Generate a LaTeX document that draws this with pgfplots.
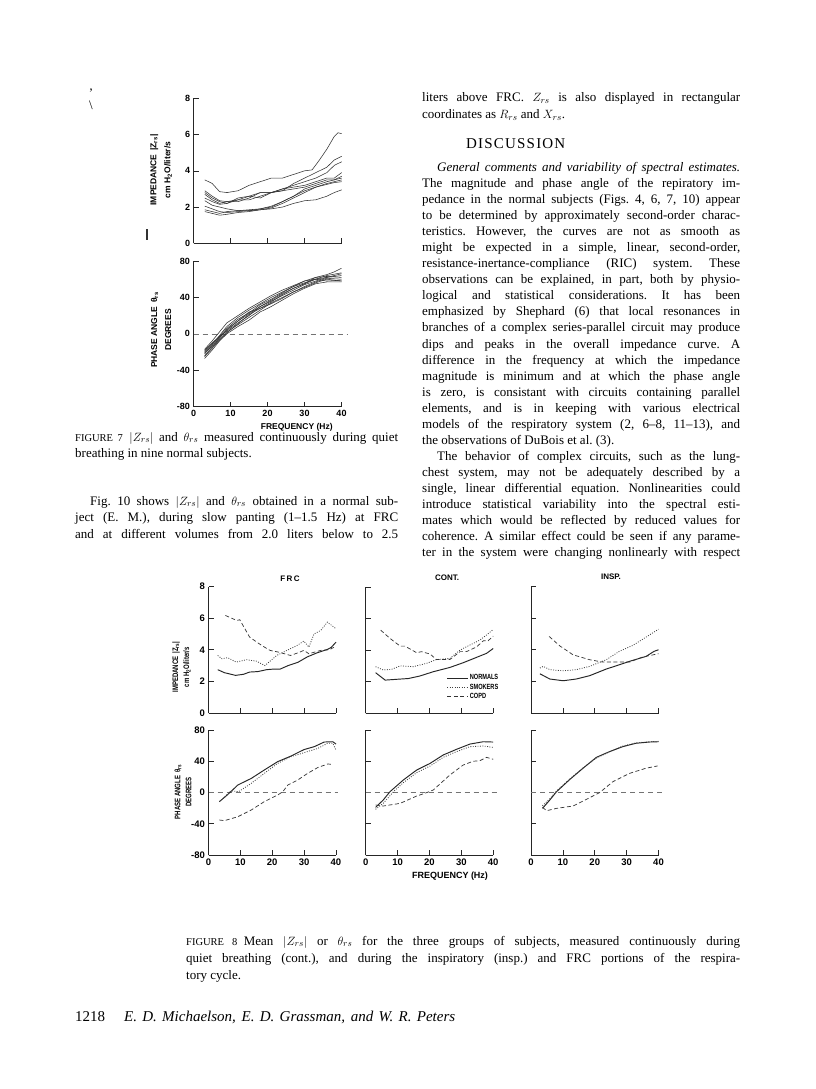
\documentclass[border=0pt]{standalone}
\usepackage{pgfplots}
\pgfplotsset{compat=1.18}
\usepackage{fontspec}
\setmainfont{Liberation Serif}
\newfontfamily\fN{Liberation Sans}
\newfontfamily\fK{Liberation Sans}[FakeStretch=0.75]
\newcommand\sfN[1]{\fN\bfseries\fontsize{#1}{#1}\selectfont}
\newcommand\sfK[1]{\fK\bfseries\fontsize{#1}{#1}\selectfont}
\newcommand\bodyfont{\fontsize{13}{15}\selectfont\frenchspacing}
\newcommand\capfont{\fontsize{13}{14}\selectfont\frenchspacing}
% justified line: x, baseline y, width, text
\newcommand\JL[4]{\node[anchor=base west,inner sep=0pt,font=\bodyfont] at (#1pt,-#2pt) {\makebox[#3pt][s]{#4}};}
\newcommand\LL[3]{\node[anchor=base west,inner sep=0pt,font=\bodyfont] at (#1pt,-#2pt) {#3};}
\newcommand\JC[4]{\node[anchor=base west,inner sep=0pt,font=\capfont] at (#1pt,-#2pt) {\makebox[#3pt][s]{#4}};}
\newcommand\LC[3]{\node[anchor=base west,inner sep=0pt,font=\capfont] at (#1pt,-#2pt) {#3};}
\newcommand\Zrs{$|Z_{rs}|$}
\newcommand\Trs{$\theta_{rs}$}

\pgfplotsset{
  pg/.style={scale only axis, axis lines*=left,
    axis line style={-, line width=0.7pt, black!85},
    enlargelimits=false, xmin=0, xmax=40, tick align=inside,
    major tick length=5pt, tick style={line width=0.6pt, black!85},
    clip=false, xtick pos=left, ytick pos=left, anchor=south west},
  f7/.style={pg, width=148pt, height=145pt, ticklabel style={font=\sfN{9}}},
  f8/.style={pg, width=127.5pt, ticklabel style={font=\sfN{9.5}}},
  imp/.style={ymin=0, ymax=8, ytick={0,2,4,6,8}, xtick={10,20,30,40}, xticklabels={,,,}},
  pha/.style={ymin=-80, ymax=80, ytick={-80,-40,0,40,80}, xtick={0,10,20,30,40}, xticklabels={0,10,20,30,40}},
  subj/.style={line width=0.55pt, black!80},
  nor/.style={line width=0.95pt, black!85},
  smk/.style={line width=0.8pt, black!75, dash pattern=on 0.9pt off 1.5pt},
  cpd/.style={line width=0.7pt, black!80, dash pattern=on 4pt off 2.5pt},
  zer/.style={line width=0.6pt, black!55, dash pattern=on 5pt off 4pt, forget plot},
}

\begin{document}
\begin{tikzpicture}
\fill[white] (0,0) rectangle (816pt,-1089pt);
\path[use as bounding box] (0,0) rectangle (816pt,-1089pt);

% ---------------- Figure 7 -----------------
\begin{axis}[f7, imp, at={(193.7pt,-243.3pt)}, yticklabels={0,2,4,6,8}]
\addplot[subj] coordinates {(3,3.5)(5,3.3)(7,2.85)(9,2.8)(12,2.9)(15,3.2)(18,3.4)(21,3.6)(24,3.6)(27,3.8)(30,4.0)(32,4.05)(34,4.6)(36,5.2)(38,5.9)(39,6.1)(40,6.05)};
\addplot[subj] coordinates {(3,2.9)(5,2.6)(7,2.35)(9,2.3)(12,2.3)(15,2.5)(18,2.8)(21,2.8)(24,2.9)(27,3.3)(30,3.6)(33,3.9)(36,4.2)(38,4.6)(40,4.8)};
\addplot[subj] coordinates {(3,2.8)(5,2.5)(7,2.3)(9,2.2)(12,2.5)(15,2.6)(18,2.5)(21,2.8)(24,3.0)(27,3.2)(30,3.4)(33,3.6)(36,3.9)(38,4.3)(40,4.5)};
\addplot[subj] coordinates {(3,2.7)(5,2.4)(7,2.2)(9,2.3)(12,2.4)(15,2.4)(18,2.6)(21,2.8)(24,3.0)(27,3.1)(30,3.2)(33,3.4)(36,3.6)(38,3.6)(40,3.9)};
\addplot[subj] coordinates {(3,2.5)(5,2.3)(7,2.15)(9,2.2)(12,2.4)(15,2.6)(18,2.8)(21,2.8)(24,2.9)(27,3.0)(30,3.1)(33,3.3)(36,3.5)(38,3.5)(40,3.7)};
\addplot[subj] coordinates {(3,2.35)(5,2.1)(7,2.0)(9,1.9)(12,1.8)(15,1.8)(18,1.9)(21,2.0)(24,2.3)(27,2.6)(30,3.0)(33,3.2)(36,3.4)(38,3.5)(40,3.6)};
\addplot[subj] coordinates {(3,2.05)(5,1.9)(7,1.75)(9,1.7)(12,1.75)(15,1.8)(18,1.85)(21,1.95)(24,2.2)(27,2.5)(30,2.8)(33,3.1)(36,3.3)(38,3.4)(40,3.5)};
\addplot[subj] coordinates {(3,1.85)(5,1.75)(7,1.65)(9,1.75)(12,1.8)(15,1.85)(18,1.9)(21,2.05)(24,2.3)(27,2.6)(30,2.9)(33,3.1)(36,3.25)(38,3.35)(40,3.4)};
\addplot[subj] coordinates {(3,1.75)(5,1.65)(7,1.55)(9,1.6)(12,1.7)(15,1.75)(18,1.85)(21,1.9)(24,2.0)(27,2.2)(30,2.35)(33,2.4)(36,2.6)(38,2.8)(40,2.95)};
\end{axis}

\begin{axis}[f7, pha, at={(193.5pt,-406.7pt)}, height=145.7pt, yticklabels={-80,-40,0,40,80}]
\addplot[zer] coordinates {(0,0)(41.5,0)};
\addplot[subj] coordinates {(3,-17)(5,-8)(7,2)(9,12)(12,20)(15,28)(18,35)(21,42)(24,48)(27,53)(30,58)(33,62)(36,65)(38,68)(40,72)};
\addplot[subj] coordinates {(3,-20)(5,-12)(7,-2)(9,8)(12,18)(15,26)(18,33)(21,40)(24,46)(27,52)(30,56)(33,60)(36,64)(40,67)};
\addplot[subj] coordinates {(3,-22)(5,-13)(7,-4)(9,4)(12,14)(15,22)(18,30)(21,37)(24,44)(27,50)(30,55)(33,60)(36,62)(40,66)};
\addplot[subj] coordinates {(3,-18)(5,-10)(7,-3)(9,3)(12,12)(15,20)(18,30)(21,36)(24,42)(27,48)(30,54)(33,58)(36,62)(40,64)};
\addplot[subj] coordinates {(3,-24)(5,-15)(7,-6)(9,2)(12,10)(15,18)(18,26)(21,34)(24,40)(27,46)(30,52)(33,57)(36,61)(40,60)};
\addplot[subj] coordinates {(3,-25)(5,-16)(7,-7)(9,1)(12,11)(15,21)(18,28)(21,33)(24,39)(27,46)(30,51)(33,56)(36,60)(40,58)};
\addplot[subj] coordinates {(3,-27)(5,-18)(7,-8)(9,0)(12,8)(15,15)(18,24)(21,30)(24,37)(27,44)(30,50)(33,55)(36,57)(40,57)};
\addplot[subj] coordinates {(3,-21)(5,-14)(7,-5)(9,5)(12,14)(15,24)(18,28)(21,35)(24,43)(27,50)(30,55)(33,62)(36,63)(40,62)};
\addplot[subj] coordinates {(3,-19)(5,-11)(7,-3)(9,6)(12,16)(15,23)(18,32)(21,38)(24,45)(27,52)(30,58)(33,60)(36,58)(40,59)};
\end{axis}

\node[font=\sfN{8.5}] at (296.7pt,-427pt) {FREQUENCY (Hz)};
\node[rotate=90, align=center, font=\sfN{8.5}, inner sep=0pt] at (161pt,-170pt)
  {IMPEDANCE \,|Z\textsubscript{rs}|\\[5.5pt] cm H\textsubscript{2}O/liter/s};
\node[rotate=90, align=center, font=\sfN{8.5}, inner sep=0pt] at (161pt,-330pt)
  {PHASE ANGLE \,θ\textsubscript{rs}\\[5.5pt] DEGREES};
\draw[line width=1.6pt, black!80] (147pt,-229pt) -- (147pt,-240pt);
\node[font=\bodyfont, inner sep=0pt] at (91pt,-93pt) {\textquoteright};
\node[font=\bodyfont, inner sep=0pt] at (91pt,-105pt) {\textbackslash};

% ---------------- Figure 8 -----------------
% FRC
\begin{axis}[f8, imp, at={(208.5pt,-713pt)}, height=126.5pt, yticklabels={0,2,4,6,8}]
\addplot[nor] coordinates {(2.9,2.74)(5,2.55)(8.5,2.38)(11,2.45)(12.9,2.59)(15.5,2.62)(18.2,2.74)(20.5,2.78)(22.5,2.78)(25,3.0)(28,3.2)(31,3.55)(34,3.8)(37.3,4.02)(38.5,4.15)(40,4.48)};
\addplot[smk] coordinates {(2.9,3.64)(4.2,3.43)(6,3.5)(8.7,3.22)(11.9,3.37)(15,3.28)(17.7,3.0)(21.4,3.64)(24.6,3.96)(27.8,4.27)(29.9,4.55)(31.5,4.17)(33.1,5.0)(35.2,5.22)(37.3,5.75)(40,5.33)};
\addplot[cpd] coordinates {(5.3,6.17)(8.9,5.85)(9.8,5.9)(12.9,4.8)(16.7,4.27)(19.3,3.96)(22,3.85)(25.7,3.64)(28,3.8)(29.9,3.96)(31.5,3.75)(35.2,3.96)(37.9,4.0)(39.5,4.17)};
\end{axis}
\begin{axis}[f8, pha, at={(208.5pt,-855pt)}, height=125pt, yticklabels={-80,-40,0,40,80}]
\addplot[zer] coordinates {(0,0)(40.5,0)};
\addplot[nor] coordinates {(3.4,-11.7)(5.5,-4.5)(7.5,3)(9.2,9.6)(13.4,18)(17.5,28.8)(21.7,39.5)(25.9,46.7)(30,55)(33.2,58.7)(36.3,64.6)(39,65)(40,62)};
\addplot[smk] coordinates {(4,-9.6)(7.1,2.3)(9.4,1)(13.4,11.7)(17.5,24.5)(21.7,37.3)(25.9,45.9)(30,51)(34.3,56.5)(37.4,63)(39,63)(40,54.4)};
\addplot[cpd] coordinates {(3.4,-35.2)(5,-36)(9.2,-31)(13.4,-22.4)(17.5,-11.7)(21.7,-3.2)(23.3,1)(24.9,9.6)(28,16)(31.1,24.5)(34.3,32)(37.4,36.5)(39,36)};
\end{axis}

% CONT
\begin{axis}[f8, imp, at={(365.7pt,-713.3pt)}, height=126.5pt, yticklabels={,,,,},
  legend style={at={(0.635,0.315)}, anchor=north west, draw=none, fill=none,
    inner sep=0pt, row sep=0.6pt, font=\sfK{7.5}, cells={anchor=west},
    nodes={inner sep=1pt}},
  legend image code/.code={\draw[#1] (0pt,0pt) -- (21pt,0pt);}]
\addplot[nor] coordinates {(3.1,2.57)(6.1,2.1)(9.7,2.15)(13.4,2.2)(17,2.36)(21.2,2.63)(26.4,2.9)(30.6,3.2)(34.8,3.54)(37.9,3.79)(40,4.1)};
\addlegendentry{NORMALS}
\addplot[smk] coordinates {(3.1,2.95)(5.5,2.74)(8.1,2.78)(10.8,3.0)(14.9,2.95)(19.1,3.16)(22.2,3.4)(26.4,3.47)(29.6,4.0)(32.7,4.32)(35.8,4.63)(37.9,4.95)(40,5.3)};
\addlegendentry{SMOKERS}
\addplot[cpd] coordinates {(4.7,5.26)(7.6,4.74)(10.8,4.25)(12.3,4.25)(16,3.83)(17.5,3.9)(20.2,3.75)(22.2,3.4)(26.4,3.4)(29.6,3.9)(31.6,3.9)(34.8,4.2)(36.9,4.59)(38.4,4.59)(40,4.88)};
\addlegendentry{COPD}
\end{axis}
\begin{axis}[f8, pha, at={(365.7pt,-855pt)}, height=125pt, yticklabels={,,,,}]
\addplot[zer] coordinates {(0,0)(41.3,0)};
\addplot[nor] coordinates {(3.1,-19)(5.5,-9.6)(7.6,1)(11.8,16)(16,28.8)(20.2,37.3)(24.3,48)(28.5,55.3)(32.7,62)(36.9,65)(40,64.6)};
\addplot[smk] coordinates {(3.1,-21.5)(5.5,-13.9)(8.7,1)(11.8,12.6)(16,25.4)(20.2,33.9)(24.3,45)(28.5,52.3)(32.7,58.7)(36.9,59.5)(40,57.8)};
\addplot[cpd] coordinates {(3.1,-16)(5.5,-17.3)(10.8,-13.9)(16,-4.5)(19.1,-0.2)(21.2,3.2)(26.4,22.4)(30.6,35.2)(33.7,40)(35.8,40.7)(37.9,45)(40,42.5)};
\end{axis}

% INSP
\begin{axis}[f8, imp, at={(531pt,-713pt)}, height=126.5pt, yticklabels={,,,,}]
\addplot[nor] coordinates {(2.8,2.48)(5.9,2.15)(10.1,2.04)(14.2,2.15)(18.4,2.36)(23.6,2.78)(27.7,3.05)(31.9,3.33)(36.1,3.58)(38.6,3.9)(40,4.0)};
\addplot[smk] coordinates {(2.8,2.84)(3.8,2.95)(5.9,2.74)(10.1,2.67)(14.2,2.74)(18.4,2.95)(23.6,3.37)(27.7,3.9)(31.9,4.27)(36.1,4.8)(40,5.3)};
\addplot[cpd] coordinates {(5.7,4.84)(9,4.25)(13.2,3.68)(18.4,3.37)(22.5,3.22)(26.7,3.22)(30.9,3.22)(35,3.54)(40,3.75)};
\end{axis}
\begin{axis}[f8, pha, at={(531pt,-855pt)}, height=125pt, yticklabels={,,,,}]
\addplot[zer] coordinates {(0,0)(41.5,0)};
\addplot[nor] coordinates {(3.6,-20.3)(5.9,-9.6)(8,1)(12.2,16.8)(16.3,31)(20.5,45)(24.6,52.3)(28.8,58.7)(32.9,63)(37.1,64.6)(40,65)};
\addplot[smk] coordinates {(3.6,-17)(5.9,-8)(8,2)(12.2,17.5)(16.3,31.5)(20.5,44)(24.6,52)(28.8,59.5)(32.9,63.5)(37.1,65)(40,65.5)};
\addplot[cpd] coordinates {(3.6,-19)(4.9,-23.3)(8,-20.3)(13.2,-17.3)(17.4,-8.7)(21.5,-0.2)(25.7,13.9)(30.9,24.5)(36,31)(39.7,34)};
\end{axis}

\node[font=\sfN{8}] at (290pt,-579pt) {F\,R\,C};
\node[font=\sfN{8}] at (447pt,-578pt) {CONT.};
\node[font=\sfN{8}] at (611pt,-577pt) {INSP.};
\node[font=\sfN{9}] at (450pt,-876pt) {FREQUENCY (Hz)};
\node[rotate=90, align=center, font=\sfK{8}, inner sep=0pt] at (181.5pt,-667pt)
  {IMPEDANCE \,|Z\textsubscript{rs}|\\[3pt] cm H\textsubscript{2}O/liter/s};
\node[rotate=90, align=center, font=\sfK{8}, inner sep=0pt] at (183pt,-792pt)
  {PHASE ANGLE \,θ\textsubscript{rs}\\[3pt] DEGREES};

% ---------------- Text -----------------
\JC{75}{441}{323}{{\fontsize{10.5}{10}\selectfont FIGURE 7}\enspace \Zrs{} and \Trs{} measured continuously during quiet}
\LC{75}{457}{breathing in nine normal subjects.}

\JL{90}{505}{308}{Fig. 10 shows \Zrs{} and \Trs{} obtained in a normal sub-}
\JL{75}{521.5}{323}{ject (E. M.), during slow panting (1--1.5 Hz) at FRC}
\JL{75}{538}{323}{and at different volumes from 2.0 liters below to 2.5}

\JL{422}{102}{318}{liters above FRC. $Z_{rs}$ is also displayed in rectangular}
\LL{422}{119}{coordinates as $R_{rs}$ and $X_{rs}$.}
\node[anchor=base west, inner sep=0pt, font=\fontsize{15}{15}\selectfont\addfontfeatures{LetterSpace=8}] at (466pt,-148pt) {DISCUSSION};
\JL{437}{171}{303}{\itshape General comments and variability of spectral estimates.}
\JL{422}{187.5}{318}{The magnitude and phase angle of the repiratory im-}
\JL{422}{203.55}{318}{pedance in the normal subjects (Figs. 4, 6, 7, 10) appear}
\JL{422}{219.6}{318}{to be determined by approximately second-order charac-}
\JL{422}{235.65}{318}{teristics. However, the curves are not as smooth as}
\JL{422}{251.7}{318}{might be expected in a simple, linear, second-order,}
\JL{422}{267.75}{318}{resistance-inertance-compliance (RIC) system. These}
\JL{422}{283.8}{318}{observations can be explained, in part, both by physio-}
\JL{422}{299.85}{318}{logical and statistical considerations. It has been}
\JL{422}{315.9}{318}{emphasized by Shephard (6) that local resonances in}
\JL{422}{331.95}{318}{branches of a complex series-parallel circuit may produce}
\JL{422}{348}{318}{dips and peaks in the overall impedance curve. A}
\JL{422}{364.05}{318}{difference in the frequency at which the impedance}
\JL{422}{380.1}{318}{magnitude is minimum and at which the phase angle}
\JL{422}{396.15}{318}{is zero, is consistant with circuits containing parallel}
\JL{422}{412.2}{318}{elements, and is in keeping with various electrical}
\JL{422}{428.25}{318}{models of the respiratory system (2, 6--8, 11--13), and}
\LL{422}{444.3}{the observations of DuBois et al. (3).}
\JL{437}{460.35}{303}{The behavior of complex circuits, such as the lung-}
\JL{422}{476.4}{318}{chest system, may not be adequately described by a}
\JL{422}{492.45}{318}{single, linear differential equation. Nonlinearities could}
\JL{422}{508.5}{318}{introduce statistical variability into the spectral esti-}
\JL{422}{524.55}{318}{mates which would be reflected by reduced values for}
\JL{422}{540.6}{318}{coherence. A similar effect could be seen if any parame-}
\JL{422}{556.65}{318}{ter in the system were changing nonlinearly with respect}

\JC{186}{945}{554}{{\fontsize{10.5}{10}\selectfont FIGURE 8}\enspace Mean \Zrs{} or \Trs{} for the three groups of subjects, measured continuously during}
\JC{186}{962}{554}{quiet breathing (cont.), and during the inspiratory (insp.) and FRC portions of the respira-}
\LC{186}{979}{tory cycle.}

\node[anchor=base west, inner sep=0pt, font=\fontsize{15}{15}\selectfont] at (75pt,-1021pt) {1218};
\node[anchor=base west, inner sep=0pt, font=\fontsize{15}{15}\selectfont\itshape] at (124pt,-1021pt) {\makebox[331pt][s]{E. D. Michaelson, E. D. Grassman, and W. R. Peters}};
\end{tikzpicture}
\end{document}
